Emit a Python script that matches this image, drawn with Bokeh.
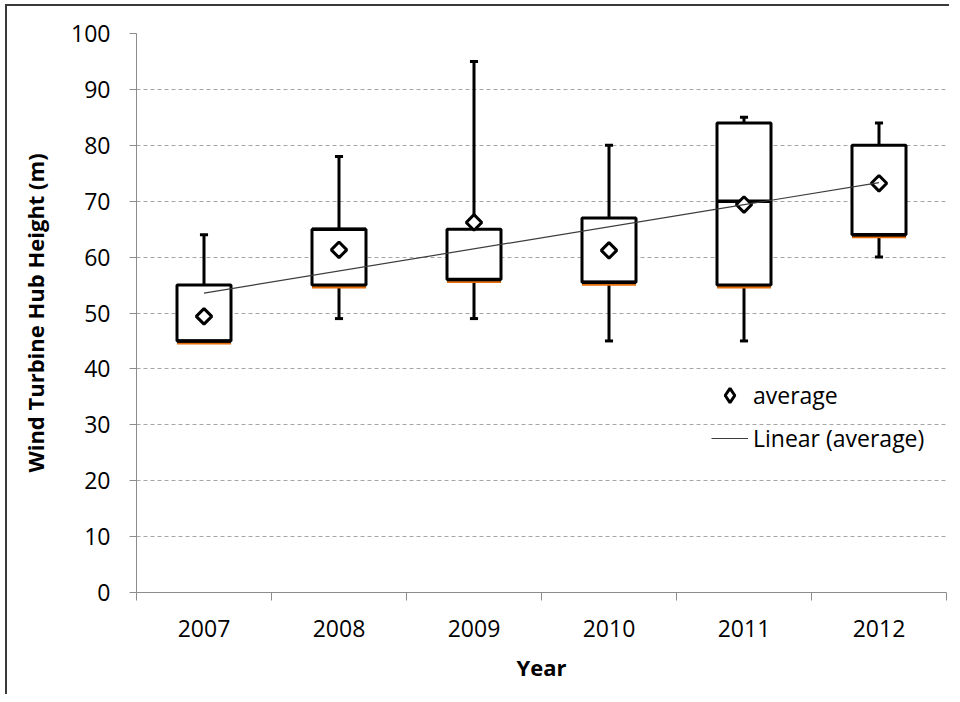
import numpy as np
from bokeh.plotting import figure
from bokeh.models import Range1d, FixedTicker, Legend, LegendItem, ColumnDataSource
from bokeh.embed import file_html
from bokeh.resources import INLINE

# ---- data ----
years = ["2007", "2008", "2009", "2010", "2011", "2012"]
whisker_low = [45, 49, 49, 45, 45, 60]
q1 = [45, 55, 56, 55.5, 55, 64]
median = [45, 65, 56, 55.5, 70, 64]
q3 = [55, 65, 65, 67, 84, 80]
whisker_high = [64, 78, 95, 80, 85, 84]
average = [49.4, 61.3, 66.2, 61.2, 69.4, 73.2]
y_ticks = [0, 10, 20, 30, 40, 50, 60, 70, 80, 90, 100]

FONT = "Open Sans"
pos = list(range(1, len(years) + 1))
box_half = 0.2
cap_half = 0.03

src = ColumnDataSource(dict(
    x=pos,
    left=[p_ - box_half for p_ in pos],
    right=[p_ + box_half for p_ in pos],
    cl=[p_ - cap_half for p_ in pos],
    cr=[p_ + cap_half for p_ in pos],
    low=whisker_low, q1=q1, med=median, q3=q3, high=whisker_high, avg=average,
))

p = figure(width=944, height=690, output_backend="svg", toolbar_location=None,
           x_range=Range1d(0.5, 6.5), y_range=Range1d(0, 100),
           min_border_left=129, min_border_right=5, min_border_top=27,
           min_border_bottom=104,
           styles={"border-left": "2px solid #3a3a3a", "border-top": "2px solid #3a3a3a",
                   "margin-left": "5px", "margin-top": "4px"})
p.outline_line_color = None
p.background_fill_color = "white"
p.border_fill_color = "white"

# axes
p.xaxis.ticker = FixedTicker(ticks=pos, minor_ticks=[x_ - 0.5 for x_ in pos] + [6.5])
p.xaxis.major_label_overrides = {i: y for i, y in zip(pos, years)}
p.xaxis.major_tick_out = 0
p.xaxis.major_tick_in = 0
p.xaxis.minor_tick_out = 8
p.xaxis.minor_tick_in = 0
p.xaxis.minor_tick_line_color = "#8c8c8c"
p.xaxis.axis_line_color = "#8c8c8c"
p.xaxis.major_label_standoff = 19
p.xaxis.axis_label = "Year"
p.xaxis.axis_label_standoff = 12

p.yaxis.ticker = FixedTicker(ticks=y_ticks, minor_ticks=[])
p.yaxis.major_tick_out = 7
p.yaxis.major_tick_in = 0
p.yaxis.major_tick_line_color = "#8c8c8c"
p.yaxis.axis_line_color = "#8c8c8c"
p.yaxis.major_label_standoff = 19
p.yaxis.axis_label = "Wind Turbine Hub Height (m)"
p.yaxis.axis_label_standoff = 18

for ax in (p.xaxis, p.yaxis):
    ax.major_label_text_font = FONT
    ax.major_label_text_font_size = "23px"
    ax.major_label_text_color = "black"
    ax.axis_label_text_font = FONT
    ax.axis_label_text_font_size = "22px"
    ax.axis_label_text_font_style = "bold"
    ax.axis_label_text_color = "black"

p.xgrid.visible = False
p.ygrid.ticker = FixedTicker(ticks=y_ticks)
p.ygrid.grid_line_color = "#a6a6a6"
p.ygrid.grid_line_dash = "4 3"
p.ygrid.grid_line_width = 1

# whiskers
p.segment(x0="x", y0="q3", x1="x", y1="high", source=src, line_color="black", line_width=3)
p.segment(x0="x", y0="low", x1="x", y1="q1", source=src, line_color="black", line_width=3)
p.segment(x0="cl", y0="high", x1="cr", y1="high", source=src, line_color="black", line_width=3)
p.segment(x0="cl", y0="low", x1="cr", y1="low", source=src, line_color="black", line_width=3)

# orange lower edge
p.segment(x0="left", y0="q1", x1="right", y1="q1", source=src, line_color="#E46C0A", line_width=7)

# boxes
p.quad(left="left", right="right", bottom="q1", top="q3", source=src,
       fill_color="white", line_color="black", line_width=3)
p.segment(x0="left", y0="med", x1="right", y1="med", source=src, line_color="black", line_width=3.5)

# averages (rotated squares = diamonds)
p.scatter(x="x", y="avg", source=src, marker="square", angle=np.pi / 4, size=11,
          fill_color="white", line_color="black", line_width=3)
# legend stand-in (legend glyphs ignore angle); a single undrawn NaN point
avg_legend_r = p.scatter(x=[float("nan")], y=[float("nan")], marker="diamond", size=14,
                         fill_color="white", line_color="black", line_width=3)

# linear trend of averages
coef = np.polyfit(pos, average, 1)
trend_x = [pos[0], pos[-1]]
trend_y = [float(np.polyval(coef, v)) for v in trend_x]
trend_r = p.line(trend_x, trend_y, line_color="#3c3c3c", line_width=1.2)

legend = Legend(items=[LegendItem(label="average", renderers=[avg_legend_r]),
                       LegendItem(label="Linear (average)", renderers=[trend_r])],
                location=(575, 136))
legend.glyph_width = 37
legend.glyph_height = 36
legend.label_height = 36
legend.spacing = 7
legend.padding = 0
legend.margin = 0
legend.label_standoff = 5
legend.border_line_color = None
legend.background_fill_alpha = 0
legend.label_text_font = FONT
legend.label_text_font_size = "23px"
legend.label_text_color = "black"
p.add_layout(legend, "center")

open("out.html", "w").write(file_html(p, INLINE))
